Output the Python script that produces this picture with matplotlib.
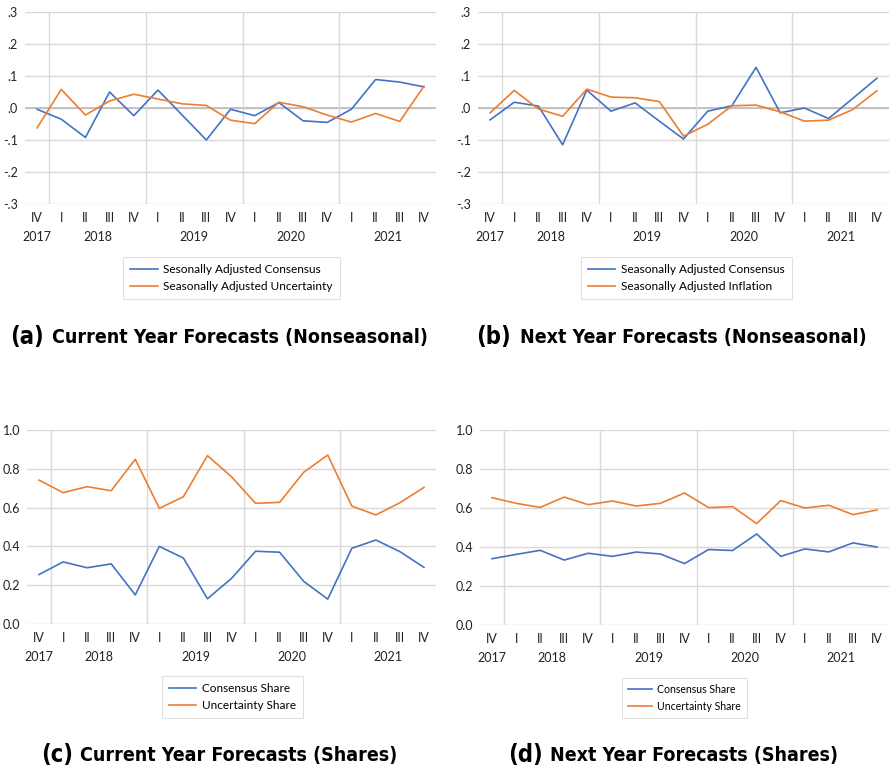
import matplotlib
matplotlib.use("Agg")
import matplotlib.pyplot as plt
import matplotlib.transforms as mtransforms
from matplotlib.ticker import FuncFormatter

plt.rcParams['font.family'] = ['Lato', 'DejaVu Sans']

quarters = ["IV", "I", "II", "III", "IV", "I", "II", "III", "IV",
            "I", "II", "III", "IV", "I", "II", "III", "IV"]
years = ["2017", "2018", "2019", "2020", "2021"]
year_pos = [0, 2.5, 6.5, 10.5, 14.5]

# current year forecasts, seasonally adjusted
cur_consensus = [-0.004, -0.035, -0.092, 0.050, -0.024, 0.056, -0.022, -0.100, -0.004,
                 -0.024, 0.017, -0.040, -0.045, -0.004, 0.089, 0.081, 0.066]
cur_uncert = [-0.062, 0.058, -0.022, 0.022, 0.043, 0.028, 0.013, 0.008, -0.038,
              -0.049, 0.018, 0.004, -0.022, -0.044, -0.017, -0.042, 0.068]

# next year forecasts, seasonally adjusted
nxt_consensus = [-0.037, 0.018, 0.006, -0.115, 0.056, -0.010, 0.016, -0.041, -0.097,
                 -0.010, 0.007, 0.127, -0.015, 0.000, -0.033, 0.030, 0.093]
nxt_inflation = [-0.015, 0.055, -0.003, -0.026, 0.059, 0.034, 0.032, 0.020, -0.088,
                 -0.051, 0.007, 0.009, -0.012, -0.041, -0.038, -0.005, 0.054]

# shares
cur_cons_share = [0.255, 0.320, 0.290, 0.310, 0.150, 0.400, 0.340, 0.130, 0.235,
                  0.375, 0.370, 0.220, 0.128, 0.390, 0.433, 0.373, 0.292]
cur_unc_share = [0.742, 0.677, 0.708, 0.687, 0.849, 0.596, 0.656, 0.868, 0.759,
                 0.622, 0.627, 0.782, 0.871, 0.608, 0.562, 0.625, 0.704]
nxt_cons_share = [0.340, 0.362, 0.383, 0.333, 0.368, 0.352, 0.374, 0.364, 0.315,
                  0.387, 0.382, 0.467, 0.352, 0.390, 0.375, 0.421, 0.400]
nxt_unc_share = [0.653, 0.624, 0.603, 0.656, 0.617, 0.636, 0.610, 0.624, 0.677,
                 0.602, 0.607, 0.520, 0.638, 0.600, 0.614, 0.566, 0.590]

BLUE = "#4472C4"
ORANGE = "#ED7D31"
W, H = 889, 770

fig = plt.figure(figsize=(W / 100, H / 100), dpi=100)


def px_axes(x0, x1, y0, y1):
    return fig.add_axes([x0 / W, 1 - y1 / H, (x1 - x0) / W, (y1 - y0) / H])


def no_lead_zero(v, pos):
    s = "%.1f" % v
    if s.startswith("0"):
        s = s[1:]
    elif s.startswith("-0"):
        s = "-" + s[2:]
    return s


def panel(ax, s1, s2, labels, ylim, yticks, fmt, legend_box, legend_size, zero_line):
    x = list(range(len(quarters)))
    for yt in yticks:
        ax.axhline(yt, color="#d9d9d9", lw=1.0, zorder=0)
    if zero_line:
        ax.axhline(0, color="#bfbfbf", lw=1.3, zorder=0)
    for xv in [0.5, 4.5, 8.5, 12.5]:
        ax.axvline(xv, color="#d9d9d9", lw=1.0, zorder=0)
    ax.plot(x, s1, color=BLUE, lw=1.2, label=labels[0])
    ax.plot(x, s2, color=ORANGE, lw=1.2, label=labels[1])
    ax.set_xlim(-0.5, 16.5)
    ax.set_ylim(*ylim)
    ax.set_yticks(yticks)
    if fmt is not None:
        ax.yaxis.set_major_formatter(FuncFormatter(fmt))
    ax.set_xticks(x)
    ax.set_xticklabels(quarters)
    ax.tick_params(length=0, labelsize=9, colors="#222222")
    ax.tick_params(axis="x", pad=6)
    ax.tick_params(axis="y", pad=5)
    for sp in ax.spines.values():
        sp.set_visible(False)
    trans = mtransforms.blended_transform_factory(ax.transData, ax.transAxes)
    h_ax = ax.get_position().height * H
    for yr, p in zip(years, year_pos):
        ax.text(p, -33 / h_ax, yr, transform=trans, ha="center", va="center",
                fontsize=9, color="#222222")
    lx0, ly0, lx1, ly1 = legend_box
    leg = ax.legend(loc="center", bbox_to_anchor=((lx0 + lx1) / 2 / W, 1 - (ly0 + ly1) / 2 / H),
                    bbox_transform=fig.transFigure, frameon=True,
                    fancybox=False, edgecolor="#d9d9d9", handlelength=2.3,
                    handletextpad=0.5, borderpad=0.55, labelspacing=0.55,
                    prop={"size": legend_size})
    leg.get_frame().set_linewidth(0.8)


ax_a = px_axes(25, 436, 12, 204)
panel(ax_a, cur_consensus, cur_uncert,
      ["Sesonally Adjusted Consensus", "Seasonally Adjusted Uncertainty"],
      (-0.3, 0.3), [-0.3, -0.2, -0.1, 0.0, 0.1, 0.2, 0.3], no_lead_zero,
      (122, 257, 341, 299), 8.6, True)

ax_b = px_axes(478, 889, 12, 204)
panel(ax_b, nxt_consensus, nxt_inflation,
      ["Seasonally Adjusted Consensus", "Seasonally Adjusted Inflation"],
      (-0.3, 0.3), [-0.3, -0.2, -0.1, 0.0, 0.1, 0.2, 0.3], no_lead_zero,
      (577, 257, 796, 299), 8.6, True)

ax_c = px_axes(27, 436, 430, 624)
panel(ax_c, cur_cons_share, cur_unc_share,
      ["Consensus Share", "Uncertainty Share"],
      (0.0, 1.0), [0.0, 0.2, 0.4, 0.6, 0.8, 1.0], None,
      (162, 677, 303, 717), 8.5, False)

ax_d = px_axes(480, 889, 430, 625)
panel(ax_d, nxt_cons_share, nxt_unc_share,
      ["Consensus Share", "Uncertainty Share"],
      (0.0, 1.0), [0.0, 0.2, 0.4, 0.6, 0.8, 1.0], None,
      (622, 680, 747, 716), 7.6, False)

# panel captions
cap_font = {"family": "DejaVu Sans", "weight": "bold", "stretch": "condensed",
            "color": "black"}
captions = [
    (10, 52, 337, "(a)", "Current Year Forecasts (Nonseasonal)"),
    (476, 520, 337, "(b)", "Next Year Forecasts (Nonseasonal)"),
    (41, 80, 755, "(c)", "Current Year Forecasts (Shares)"),
    (508, 550, 755, "(d)", "Next Year Forecasts (Shares)"),
]
for x_tag, x_txt, y, tag, txt in captions:
    fig.text(x_tag / W, 1 - y / H, tag, fontsize=17, va="center", ha="left", **cap_font)
    fig.text(x_txt / W, 1 - y / H, txt, fontsize=14, va="center", ha="left", **cap_font)

fig.savefig("out.png", dpi=100, facecolor="white")
